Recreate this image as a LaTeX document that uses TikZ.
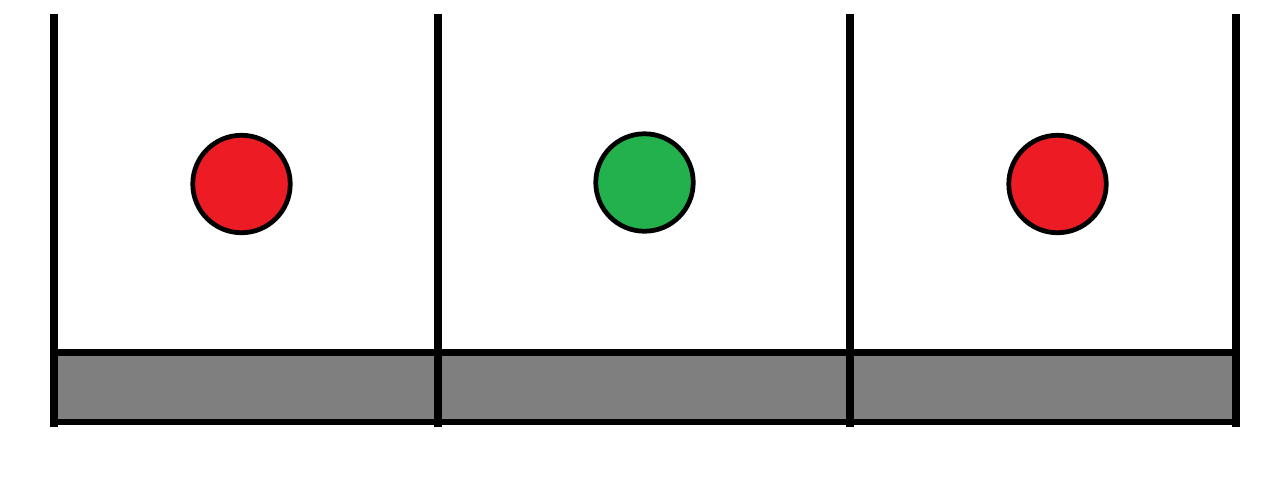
\documentclass[tikz,border=0pt]{standalone}
\definecolor{dotred}{HTML}{ED1C24}
\definecolor{dotgreen}{HTML}{22B14C}
\definecolor{floorgray}{HTML}{7F7F7F}
\tikzset{
  wall/.style={line width=4.6pt},
  floorline/.style={line width=3.7pt},
  dot/.style={circle, draw=black, line width=2.7pt, minimum size=1.95cm, inner sep=0pt},
}
\begin{document}
\begin{tikzpicture}[x=0.02cm,y=-0.02cm]
\useasboundingbox (0,0) rectangle (1280,481);
% floor
\fill[floorgray] (54,352.5) rectangle (1236,422);
\draw[floorline] (54,352.5) -- (1236,352.5);
\draw[floorline] (54,422) -- (1240,422);
% walls
\foreach \x in {54,438,850,1236} {
  \draw[wall] (\x,14) -- (\x,427);
}
% dots
\node[dot, fill=dotred] (d1) at (241.5,184) {};
\node[dot, fill=dotgreen] (d2) at (644.5,182.5) {};
\node[dot, fill=dotred] (d3) at (1057.5,184) {};
\end{tikzpicture}
\end{document}
